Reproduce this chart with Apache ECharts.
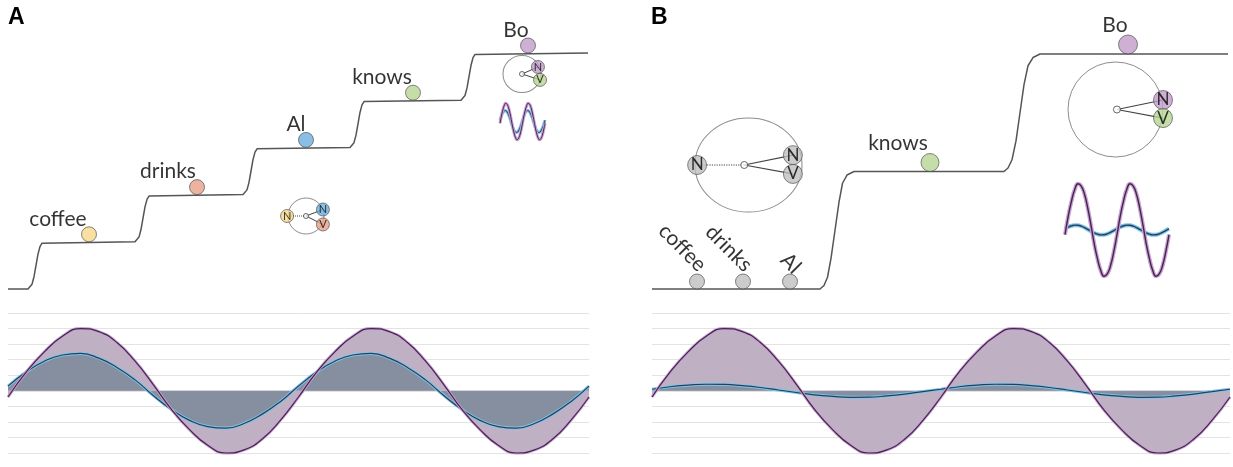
<!DOCTYPE html>
<html><head><meta charset="utf-8">
<script src="https://cdn.jsdelivr.net/npm/echarts@6/dist/echarts.min.js"></script>
<style>html,body{margin:0;padding:0;background:#fff}#c{width:1233px;height:467px}</style>
</head><body><div id="c"></div>
<script>
// ================= DATA =================
// Panel A: staircase (x = time units, y = integration level)
const wordsA = ['coffee', 'drinks', 'Al', 'knows', 'Bo'];
const wordXA = [81, 189, 298, 405, 520];
const wordLevelA = [1, 2, 3, 4, 5];
const stairA = [[0,0],
  [20,0],[22,0.03],[24,0.1],[26,0.26],[28,0.5],[30,0.74],[32,0.9],[34,0.97],[36,1],
  [127,1],[129,1.03],[131,1.1],[133,1.26],[135,1.5],[137,1.74],[139,1.9],[141,1.97],[143,2],
  [235,2],[237,2.03],[239,2.1],[241,2.26],[243,2.5],[245,2.74],[247,2.9],[249,2.97],[251,3],
  [342,3],[344,3.03],[346,3.1],[348,3.26],[350,3.5],[352,3.74],[354,3.9],[356,3.97],[358,4],
  [453,4],[455,4.03],[457,4.1],[459,4.26],[461,4.5],[463,4.74],[465,4.9],[467,4.97],[469,5],
  [580,5]];

// Panel B: staircase
const wordsB = ['coffee', 'drinks', 'Al', 'knows', 'Bo'];
const wordXB = [45, 91, 138, 278, 476];
const wordLevelB = [0, 0, 0, 1, 2];
const stairB = [[0,0],
  [168,0],[172,0.03],[175.5,0.1],[179,0.26],[183,0.5],[187,0.74],[190.5,0.9],[195,0.97],[202,1],
  [352,1],[356,1.03],[360,1.1],[364,1.26],[368,1.5],[372,1.74],[376,1.9],[381,1.97],[388,2],
  [576,2]];

// Oscillation samples (16 per cycle, 2 cycles)
const waveTicks = [0,1,2,3,4,5,6,7,8,9,10,11,12,13,14,15,16,17,18,19,20,21,22,23,24,25,26,27,28,29,30,31,32];
const purpleA = [-0.4,1.2,2.5,3.5,4.0,3.8,3.1,1.9,0.4,-1.2,-2.5,-3.5,-4.0,-3.8,-3.1,-1.9,
                 -0.4,1.2,2.5,3.5,4.0,3.8,3.1,1.9,0.4,-1.2,-2.5,-3.5,-4.0,-3.8,-3.1,-1.9,-0.4];
const blueA   = [0.3,1.2,1.9,2.3,2.4,2.1,1.5,0.7,-0.3,-1.2,-1.9,-2.3,-2.4,-2.1,-1.5,-0.7,
                 0.3,1.2,1.9,2.3,2.4,2.1,1.5,0.7,-0.3,-1.2,-1.9,-2.3,-2.4,-2.1,-1.5,-0.7,0.3];
const purpleB = [-0.4,1.2,2.5,3.5,4.0,3.8,3.1,1.9,0.4,-1.2,-2.5,-3.5,-4.0,-3.8,-3.1,-1.9,
                 -0.4,1.2,2.5,3.5,4.0,3.8,3.1,1.9,0.4,-1.2,-2.5,-3.5,-4.0,-3.8,-3.1,-1.9,-0.4];
const blueB   = [0.1,0.26,0.36,0.42,0.41,0.33,0.21,0.05,-0.11,-0.26,-0.36,-0.42,-0.41,-0.33,-0.21,-0.05,
                 0.1,0.26,0.36,0.42,0.41,0.33,0.21,0.05,-0.11,-0.26,-0.36,-0.42,-0.41,-0.33,-0.21,-0.05,0.1];

// Diagram nodes (unit-circle coordinates)
const diagALabels = ['N', 'N', 'V'];
const diagAX = [-1.05, 0.94, 0.94];
const diagAY = [0, 0.36, -0.47];
const diagABoLabels = ['N', 'V'];
const diagABoX = [0.84, 0.95];
const diagABoY = [0.38, -0.32];
const diagBLabels = ['N', 'N', 'V'];
const diagBX = [-0.96, 0.83, 0.83];
const diagBY = [0, 0.21, -0.19];
const diagBBoLabels = ['N', 'V'];
const diagBBoX = [1.0, 1.0];
const diagBBoY = [0.2, -0.18];

// ================= STYLE =================
const C = {coffee:'#F6D88B', drinks:'#E9A089', Al:'#6CAFDD', knows:'#B7D592', Bo:'#C39CCB', gray:'#BFBFBF'};
const colorsA = [C.coffee, C.drinks, C.Al, C.knows, C.Bo];
const colorsB = [C.gray, C.gray, C.gray, C.knows, C.Bo];
const sizeB = [15, 15, 15, 18, 19];
const labelDxA = [-31, -29, -10, -31, -12];
const labelDxB = [0, 0, 0, -32, -13];
const FONT = 'Lato, "Open Sans", sans-serif';

const grids = [
  {left:8, top:53, width:580, height:236},     // 0 stair A
  {left:652, top:54, width:576, height:235},   // 1 stair B
  {left:8, top:313, width:581, height:140},    // 2 wave A
  {left:652, top:313, width:578, height:140},  // 3 wave B
  {left:500, top:101, width:45, height:41},    // 4 inset A
  {left:1065, top:178, width:104, height:104}, // 5 inset B
  {left:288, top:198, width:36, height:36},    // 6 diag A
  {left:503, top:55.5, width:38, height:37},   // 7 diag A Bo
  {left:695, top:118, width:107, height:94},   // 8 diag B
  {left:1068, top:62, width:95, height:95}     // 9 diag B Bo
];

const hidV = (g, min, max) => ({type:'value', gridIndex:g, min, max, show:false});
const hidC = (g) => ({type:'category', gridIndex:g, data:waveTicks, boundaryGap:false, show:false});
const gridY = (g) => ({type:'value', gridIndex:g, min:-4, max:5, interval:1,
  axisLine:{show:false}, axisTick:{show:false}, axisLabel:{show:false},
  splitLine:{show:true, lineStyle:{color:'#e3e3e3', width:1}}});

const xAxis = [hidV(0,0,580), hidV(1,0,576), hidC(2), hidC(3), hidC(4), hidC(5),
  hidV(6,-1,1), hidV(7,-1,1), hidV(8,-1,1), hidV(9,-1,1)];
const yAxis = [hidV(0,0,5), hidV(1,0,2), gridY(2), gridY(3), hidV(4,-4.5,4.5), hidV(5,-4.5,4.5),
  hidV(6,-1,1), hidV(7,-1,1), hidV(8,-1,1), hidV(9,-1,1)];

const series = [];
const ax = (i) => ({xAxisIndex:i, yAxisIndex:i});

// staircases
[[0, stairA], [1, stairB]].forEach(([g, d]) => {
  series.push(Object.assign(ax(g), {type:'line', data:d, smooth:false, symbol:'none',
    clip:false, lineStyle:{color:'#555', width:1.5, join:'round'}, z:2}));
});

// words A
series.push(Object.assign(ax(0), {type:'scatter', clip:false, z:4,
  data: wordsA.map((w, i) => ({name:w, value:[wordXA[i], wordLevelA[i]],
    itemStyle:{color:colorsA[i]}, label:{offset:[labelDxA[i], 3]}})),
  symbolSize:15, symbolOffset:[0,-7.5],
  itemStyle:{borderColor:'#444', borderWidth:0.8},
  label:{show:true, position:'top', distance:0, formatter:'{b}', fontFamily:FONT, fontSize:21, color:'#000'}
}));

// words B
series.push(Object.assign(ax(1), {type:'scatter', clip:false, z:4,
  data: wordsB.map((w, i) => {
    const item = {name:w, value:[wordXB[i], wordLevelB[i]], symbolSize:sizeB[i],
      symbolOffset:[0, -sizeB[i]/2], itemStyle:{color:colorsB[i]}};
    if (wordLevelB[i] === 0) {
      item.label = {position:[sizeB[i]/2 + (i === 2 ? 8 : 6), sizeB[i]/2 - (i === 2 ? 11 : 13)], align:'right', verticalAlign:'middle', rotate:-45};
    } else {
      item.label = {offset:[labelDxB[i], 1]};
    }
    return item;
  }),
  itemStyle:{borderColor:'#444', borderWidth:0.8},
  label:{show:true, position:'top', distance:0, formatter:'{b}', fontFamily:FONT, fontSize:21, color:'#000'}
}));

// oscillations
function waves(g, purple, blue, withArea, glowW, coreW) {
  if (withArea) {
    series.push(Object.assign(ax(g), {type:'line', data:purple, smooth:true, symbol:'none', clip:false,
      lineStyle:{width:0}, areaStyle:{color:'#BFB1C3', opacity:1}, z:1}));
    series.push(Object.assign(ax(g), {type:'line', data:blue, smooth:true, symbol:'none', clip:false,
      lineStyle:{width:0}, areaStyle:{color:'#868FA0', opacity:1}, z:1}));
  }
  series.push(Object.assign(ax(g), {type:'line', data:blue, smooth:true, symbol:'none', clip:false,
    lineStyle:{color:'#7CC4EA', width:glowW}, z:2}));
  series.push(Object.assign(ax(g), {type:'line', data:blue, smooth:true, symbol:'none', clip:false,
    lineStyle:{color:'#263F5A', width:coreW}, z:2}));
  series.push(Object.assign(ax(g), {type:'line', data:purple, smooth:true, symbol:'none', clip:false,
    lineStyle:{color:'#C9A0D4', width:glowW}, z:3}));
  series.push(Object.assign(ax(g), {type:'line', data:purple, smooth:true, symbol:'none', clip:false,
    lineStyle:{color:'#42254A', width:coreW}, z:3}));
}
waves(2, purpleA, blueA, true, 3, 1.2);
waves(3, purpleB, blueB, true, 3, 1.2);
waves(4, purpleA, blueA, false, 3, 1);
waves(5, purpleB, blueB, false, 4, 1.4);

// diagrams
function diagram(g, labels, xs, ys, colors, dotted, center, ring, nodeSize, fontSize, lineW, dotSize) {
  series.push(Object.assign(ax(g), {type:'scatter', data:[[0,0]], symbol:'circle', symbolSize:ring,
    itemStyle:{color:'rgba(0,0,0,0)', borderColor:'#707070', borderWidth:1}, silent:true, clip:false, z:2}));
  labels.forEach((l, i) => {
    series.push(Object.assign(ax(g), {type:'line', data:[center, [xs[i], ys[i]]], symbol:'none', clip:false,
      lineStyle:{color:'#444', width:lineW, type: dotted[i] ? 'dotted' : 'solid'}, z:3}));
  });
  series.push(Object.assign(ax(g), {type:'scatter', data:[center], symbolSize:dotSize, clip:false,
    itemStyle:{color:'#fff', borderColor:'#444', borderWidth:1}, z:4}));
  series.push(Object.assign(ax(g), {type:'scatter', clip:false, z:5,
    data: labels.map((l, i) => ({name:l, value:[xs[i], ys[i]], itemStyle:{color:colors[i]}})),
    symbolSize:nodeSize, itemStyle:{borderColor:'#444', borderWidth:0.8},
    label:{show:true, position:'inside', formatter:'{b}', fontFamily:FONT, fontSize, color:'#000'}}));
}
diagram(6, diagALabels, diagAX, diagAY, [C.coffee, C.Al, C.drinks], [true,false,false], [0,0], [36,36], 13, 11, 1, 5);
diagram(7, diagABoLabels, diagABoX, diagABoY, [C.Bo, C.knows], [false,false], [0,0], [38,37], 13, 11, 1, 5);
diagram(8, diagBLabels, diagBX, diagBY, [C.gray, C.gray, C.gray], [true,false,false], [-0.08,0], [107,94], 19, 17, 1.2, 7);
diagram(9, diagBBoLabels, diagBBoX, diagBBoY, [C.Bo, C.knows], [false,false], [0.03,0], [95,95], 19, 17, 1.2, 7);

const chart = echarts.init(document.getElementById('c'));
chart.setOption({
  animation:false,
  backgroundColor:'#fff',
  title:[
    {text:'A', left:8, top:6, padding:0, textStyle:{fontFamily:'"Liberation Sans", Arial, sans-serif', fontSize:23, fontWeight:'bold', color:'#000'}},
    {text:'B', left:651, top:6, padding:0, textStyle:{fontFamily:'"Liberation Sans", Arial, sans-serif', fontSize:23, fontWeight:'bold', color:'#000'}}
  ],
  grid:grids, xAxis, yAxis, series
});
</script></body></html>
